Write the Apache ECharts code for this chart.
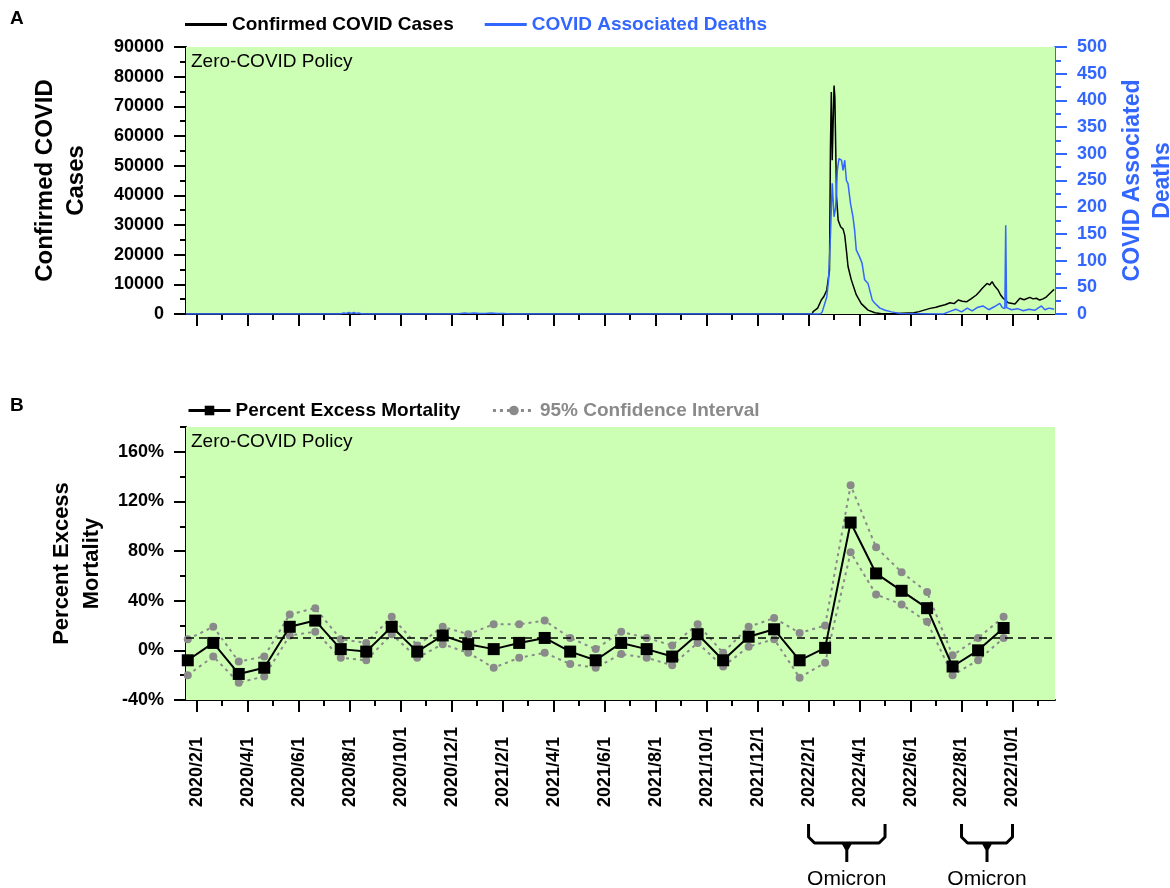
<!DOCTYPE html>
<html>
<head>
<meta charset="utf-8">
<title>Hong Kong COVID cases, deaths and excess mortality</title>
<script src="https://cdn.jsdelivr.net/npm/echarts@6/dist/echarts.min.js"></script>
<style>
  html, body { margin: 0; padding: 0; background: #fff; }
  #chart { width: 1170px; height: 888px; }
</style>
</head>
<body>
<div id="chart"></div>
<script>
// 每日确诊病例 [日期, 人数]
const casesDaily = [
  ['2020-01-19', 0], ['2022-02-05', 0], ['2022-02-06', 800], ['2022-02-11', 2000],
  ['2022-02-15', 4700], ['2022-02-18', 6000], ['2022-02-21', 8100], ['2022-02-24', 14800],
  ['2022-02-25', 55200], ['2022-02-26', 74800], ['2022-02-27', 51800], ['2022-03-01', 77000],
  ['2022-03-02', 73100], ['2022-03-04', 39500], ['2022-03-06', 31600], ['2022-03-09', 29400],
  ['2022-03-12', 28600], ['2022-03-14', 26500], ['2022-03-16', 21500], ['2022-03-18', 16000],
  ['2022-03-22', 11500], ['2022-03-28', 6500], ['2022-04-03', 3500], ['2022-04-11', 1300],
  ['2022-04-19', 400], ['2022-04-27', 100], ['2022-05-15', 200], ['2022-06-05', 450],
  ['2022-06-11', 800], ['2022-06-18', 1400], ['2022-06-24', 1900], ['2022-07-01', 2300],
  ['2022-07-06', 2700], ['2022-07-12', 3100], ['2022-07-18', 3800], ['2022-07-23', 3500],
  ['2022-07-28', 4700], ['2022-08-02', 4300], ['2022-08-07', 4100], ['2022-08-13', 5200],
  ['2022-08-19', 6400], ['2022-08-23', 7600], ['2022-08-26', 8600], ['2022-09-01', 10300],
  ['2022-09-04', 9800], ['2022-09-07', 10900], ['2022-09-10', 9400], ['2022-09-14', 8100],
  ['2022-09-17', 6400], ['2022-09-20', 5300], ['2022-09-26', 3800], ['2022-10-04', 3400],
  ['2022-10-10', 5300], ['2022-10-15', 4800], ['2022-10-22', 5600], ['2022-10-26', 5100],
  ['2022-10-30', 5300], ['2022-11-03', 4700], ['2022-11-07', 5100], ['2022-11-11', 5800],
  ['2022-11-17', 7500], ['2022-11-20', 8300]
]

// 每日死亡人数 [日期, 人数]
const deathsDaily = [
  ['2020-01-19', 0], ['2020-07-20', 0], ['2020-07-25', 2], ['2020-07-28', 1], ['2020-07-31', 3],
  ['2020-08-03', 1], ['2020-08-06', 3], ['2020-08-09', 1], ['2020-08-12', 2], ['2020-08-16', 0],
  ['2020-12-08', 0], ['2020-12-12', 1], ['2020-12-17', 2], ['2020-12-22', 1], ['2020-12-28', 2],
  ['2021-01-04', 1], ['2021-01-11', 1], ['2021-01-18', 2], ['2021-01-25', 1], ['2021-02-02', 1],
  ['2021-02-10', 0], ['2022-02-14', 0], ['2022-02-16', 4], ['2022-02-21', 32], ['2022-02-23', 64],
  ['2022-02-25', 145], ['2022-02-27', 245], ['2022-03-01', 182], ['2022-03-03', 200],
  ['2022-03-05', 269], ['2022-03-07', 291], ['2022-03-10', 288], ['2022-03-12', 269],
  ['2022-03-14', 288], ['2022-03-16', 250], ['2022-03-18', 244], ['2022-03-21', 207],
  ['2022-03-24', 182], ['2022-03-26', 157], ['2022-03-28', 120], ['2022-04-01', 107],
  ['2022-04-04', 95], ['2022-04-07', 64], ['2022-04-11', 57], ['2022-04-13', 60],
  ['2022-04-16', 26], ['2022-04-19', 20], ['2022-04-25', 11], ['2022-05-01', 7],
  ['2022-05-09', 4], ['2022-05-19', 1], ['2022-07-10', 0], ['2022-07-18', 5],
  ['2022-07-25', 9], ['2022-08-01', 4], ['2022-08-08', 11], ['2022-08-14', 6],
  ['2022-08-20', 12], ['2022-08-27', 15], ['2022-09-03', 8], ['2022-09-10', 14],
  ['2022-09-16', 20], ['2022-09-19', 12], ['2022-09-22', 10], ['2022-09-23', 166],
  ['2022-09-24', 12], ['2022-09-30', 8], ['2022-10-07', 10], ['2022-10-14', 6],
  ['2022-10-21', 9], ['2022-10-28', 7], ['2022-11-05', 15], ['2022-11-09', 8],
  ['2022-11-14', 11], ['2022-11-20', 9]
]

// 每月超额死亡率
const excessMonths = [
  '2020-01', '2020-02', '2020-03', '2020-04', '2020-05', '2020-06', '2020-07', '2020-08',
  '2020-09', '2020-10', '2020-11', '2020-12', '2021-01', '2021-02', '2021-03', '2021-04',
  '2021-05', '2021-06', '2021-07', '2021-08', '2021-09', '2021-10', '2021-11', '2021-12',
  '2022-01', '2022-02', '2022-03', '2022-04', '2022-05', '2022-06', '2022-07', '2022-08',
  '2022-09'
]
const excessPct = [
  -8, 6, -19, -14, 19, 24, 1, -1, 19, -1, 12, 5, 1, 6, 10, -1,
  -8, 6, 1, -5, 13, -8, 11, 17, -8, 2, 103, 62, 48, 34, -13, 0, 18
]
const ciUpper = [
  9, 19, -9, -5, 29, 34, 9, 6, 27, 4, 19, 13, 21, 21, 24, 10,
  1, 15, 10, 4, 21, -2, 19, 26, 14, 20, 133, 83, 63, 47, -4, 10, 27
]
const ciLower = [
  -20, -5, -26, -21, 12, 15, -6, -8, 13, -6, 5, -2, -14, -6, -2, -11,
  -14, -3, -6, -12, 6, -13, 3, 9, -22, -10, 79, 45, 37, 23, -20, -8, 10
]

// 横轴刻度标签
const xTickLabels = [
  '2020/2/1', '2020/4/1', '2020/6/1', '2020/8/1', '2020/10/1', '2020/12/1',
  '2021/2/1', '2021/4/1', '2021/6/1', '2021/8/1', '2021/10/1', '2021/12/1',
  '2022/2/1', '2022/4/1', '2022/6/1', '2022/8/1', '2022/10/1'
]
const pctTicks = [-40, 0, 40, 80, 120, 160]
const omicronSpans = [['2022-02-01', '2022-05-01'], ['2022-08-01', '2022-10-01']]
const axisStart = '2020-01-19'
const axisEnd = '2022-11-21'

const FONT = "'Liberation Sans', Arial, Helvetica, sans-serif"
const GREEN = '#ccffb4'
const BLUE = '#3366ff'
const GRAY = '#8a8a8a'

// 日期 -> 以月为单位的数值 (2020/1/1 = 0)
function toMonth(str) {
  let p = str.split(/[-\/]/).map(Number)
  let y = p[0], m = p[1], d = p[2] || 1
  let days = new Date(y, m, 0).getDate()
  return (y - 2020) * 12 + (m - 1) + (d - 1) / days
}

let xMin = toMonth(axisStart)
let xMax = toMonth(axisEnd)
let majorTicks = xTickLabels.map(toMonth)
let minorTicks = []
majorTicks.forEach(function(v) {
  if (v + 1 < xMax) minorTicks.push(v + 1)
})
// 每月数据点画在当月约21日的位置
const pointOffset = 0.65
let excessX = excessMonths.map(m => toMonth(m) + pointOffset)

function xAxisOf(gridIndex, ticks, len, showLine, labels) {
  return {
    type: 'value',
    gridIndex,
    position: 'bottom',
    min: xMin,
    max: xMax,
    axisLine: { show: showLine, onZero: false, lineStyle: { color: '#000', width: 2 } },
    axisTick: { show: true, customValues: ticks, length: len, lineStyle: { color: '#000', width: 2 } },
    axisLabel: labels ? {
      show: true,
      customValues: majorTicks,
      formatter: function(v) {
        let i = majorTicks.findIndex(t => Math.abs(t - v) < 1e-6)
        return i >= 0 ? xTickLabels[i] : ''
      },
      rotate: 90,
      align: 'left',
      verticalAlign: 'middle',
      margin: 107,
      color: '#000',
      fontSize: 18,
      fontWeight: 'bold',
      fontFamily: FONT
    } : { show: false },
    splitLine: { show: false }
  }
}

let chart = echarts.init(document.getElementById('chart'))

let labelStyle = {
  color: '#000', fontSize: 18, fontWeight: 'bold', fontFamily: FONT, margin: 22,
  formatter: v => String(v)
}

let option = {
  backgroundColor: '#fff',
  animation: false,
  textStyle: { fontFamily: FONT },
  grid: [
    { left: 186, top: 47, width: 869, height: 267, outerBoundsMode: 'none', containLabel: false },
    { left: 186, top: 427, width: 869, height: 273, outerBoundsMode: 'none', containLabel: false }
  ],
  legend: [
    {
      left: 180,
      top: 10,
      itemWidth: 42,
      itemHeight: 3,
      itemGap: 31,
      icon: 'rect',
      textStyle: { color: '#000', fontSize: 19, fontWeight: 'bold', fontFamily: FONT },
      data: [
        'Confirmed COVID Cases',
        { name: 'COVID Associated Deaths', textStyle: { color: BLUE } }
      ]
    },
    {
      left: 182,
      top: 396,
      itemWidth: 42,
      itemHeight: 12,
      itemGap: 31,
      lineStyle: { width: 3 },
      textStyle: { color: '#000', fontSize: 19, fontWeight: 'bold', fontFamily: FONT },
      data: [
        'Percent Excess Mortality',
        { name: '95% Confidence Interval', textStyle: { color: GRAY } }
      ]
    }
  ],
  xAxis: [
    xAxisOf(0, majorTicks, 12, true, false),
    xAxisOf(0, minorTicks, 6, false, false),
    xAxisOf(1, majorTicks, 12, true, true),
    xAxisOf(1, minorTicks, 6, false, false)
  ],
  yAxis: [
    {
      type: 'value',
      gridIndex: 0,
      position: 'left',
      min: 0,
      max: 90000,
      interval: 10000,
      axisLine: { show: true, onZero: false, lineStyle: { color: '#000', width: 2 } },
      axisTick: { show: true, length: 12, lineStyle: { color: '#000', width: 2 } },
      minorTick: { show: true, splitNumber: 2, length: 6, lineStyle: { color: '#000', width: 2 } },
      axisLabel: labelStyle,
      splitLine: { show: false },
      name: 'Confirmed COVID\nCases',
      nameLocation: 'middle',
      nameGap: 94,
      nameTextStyle: { color: '#000', fontSize: 24, fontWeight: 'bold', lineHeight: 31, fontFamily: FONT }
    },
    {
      type: 'value',
      gridIndex: 0,
      position: 'right',
      min: 0,
      max: 500,
      interval: 50,
      axisLine: { show: true, onZero: false, lineStyle: { color: BLUE, width: 2 } },
      axisTick: { show: true, length: 12, lineStyle: { color: BLUE, width: 2 } },
      minorTick: { show: true, splitNumber: 2, length: 6, lineStyle: { color: BLUE, width: 2 } },
      axisLabel: Object.assign({}, labelStyle, { color: BLUE }),
      splitLine: { show: false },
      name: 'COVID Associated\nDeaths',
      nameLocation: 'middle',
      nameGap: 57,
      nameTextStyle: { color: BLUE, fontSize: 23, fontWeight: 'bold', lineHeight: 30, fontFamily: FONT }
    },
    {
      type: 'value',
      gridIndex: 1,
      position: 'left',
      min: -40,
      max: 180,
      interval: 40,
      axisLine: { show: true, onZero: false, lineStyle: { color: '#000', width: 2 } },
      axisTick: { show: true, customValues: pctTicks, length: 12, lineStyle: { color: '#000', width: 2 } },
      axisLabel: Object.assign({}, labelStyle, { customValues: pctTicks, formatter: '{value}%' }),
      splitLine: { show: false },
      name: 'Percent Excess\nMortality',
      nameLocation: 'middle',
      nameGap: 78,
      nameTextStyle: { color: '#000', fontSize: 22, fontWeight: 'bold', lineHeight: 30, fontFamily: FONT }
    },
    {
      // 小刻度
      type: 'value',
      gridIndex: 1,
      position: 'left',
      min: -40,
      max: 180,
      axisLine: { show: false, onZero: false },
      axisTick: { show: true, customValues: pctTicks.map(v => v + 20), length: 6, lineStyle: { color: '#000', width: 2 } },
      axisLabel: { show: false },
      splitLine: { show: false }
    }
  ],
  series: [
    {
      name: 'Confirmed COVID Cases',
      type: 'line',
      xAxisIndex: 0,
      yAxisIndex: 0,
      symbol: 'none',
      color: '#000',
      lineStyle: { color: '#000', width: 1.5 },
      data: casesDaily.map(d => [toMonth(d[0]), d[1]]),
      markArea: {
        silent: true,
        itemStyle: { color: GREEN, opacity: 1 },
        label: { show: true, position: 'insideTopLeft', distance: 5, color: '#000', fontSize: 19, fontFamily: FONT },
        data: [[{ name: 'Zero-COVID Policy', coord: [xMin, 0] }, { coord: [xMax, 90000] }]]
      }
    },
    {
      name: 'COVID Associated Deaths',
      type: 'line',
      xAxisIndex: 0,
      yAxisIndex: 1,
      symbol: 'none',
      color: BLUE,
      lineStyle: { color: BLUE, width: 1.5 },
      data: deathsDaily.map(d => [toMonth(d[0]), d[1]])
    },
    {
      name: '95% Confidence Interval',
      type: 'line',
      xAxisIndex: 2,
      yAxisIndex: 2,
      symbol: 'circle',
      symbolSize: 8,
      color: GRAY,
      lineStyle: { color: GRAY, width: 2, type: [3, 4] },
      data: excessX.map((x, i) => [x, ciUpper[i]]),
      markArea: {
        silent: true,
        itemStyle: { color: GREEN, opacity: 1 },
        label: { show: true, position: 'insideTopLeft', distance: 5, color: '#000', fontSize: 19, fontFamily: FONT },
        data: [[{ name: 'Zero-COVID Policy', coord: [xMin, -40] }, { coord: [xMax, 180] }]]
      },
      markLine: {
        silent: true,
        symbol: 'none',
        label: { show: false },
        lineStyle: { color: '#000', width: 1.5, type: [8, 5] },
        data: [{ yAxis: 10 }]
      }
    },
    {
      name: '95% Confidence Interval',
      type: 'line',
      xAxisIndex: 2,
      yAxisIndex: 2,
      symbol: 'circle',
      symbolSize: 8,
      color: GRAY,
      lineStyle: { color: GRAY, width: 2, type: [3, 4] },
      data: excessX.map((x, i) => [x, ciLower[i]])
    },
    {
      name: 'Percent Excess Mortality',
      type: 'line',
      xAxisIndex: 2,
      yAxisIndex: 2,
      z: 4,
      symbol: 'rect',
      symbolSize: 12,
      color: '#000',
      lineStyle: { color: '#000', width: 2 },
      data: excessX.map((x, i) => [x, excessPct[i]])
    }
  ]
}

chart.setOption(option)

// 面板标签和 Omicron 括号
let graphics = [
  { type: 'text', left: 10, top: 9, style: { text: 'A', fontSize: 19, fontWeight: 'bold', fill: '#000', fontFamily: FONT } },
  { type: 'text', left: 10, top: 396, style: { text: 'B', fontSize: 19, fontWeight: 'bold', fill: '#000', fontFamily: FONT } }
]
omicronSpans.forEach(function(span) {
  let x1 = chart.convertToPixel({ xAxisIndex: 2 }, toMonth(span[0]))
  let x2 = chart.convertToPixel({ xAxisIndex: 2 }, toMonth(span[1]))
  let xc = (x1 + x2) / 2
  graphics.push({
    type: 'polyline',
    shape: { points: [[x1, 824], [x1, 837], [x1 + 6, 843], [x2 - 6, 843], [x2, 837], [x2, 824]] },
    style: { stroke: '#000', lineWidth: 3, fill: null, lineJoin: 'round' }
  })
  graphics.push({
    type: 'polygon',
    shape: { points: [[xc - 6, 842], [xc + 6, 842], [xc + 1.5, 850], [xc + 1.5, 862], [xc - 1.5, 862], [xc - 1.5, 850]] },
    style: { fill: '#000' }
  })
  graphics.push({
    type: 'text',
    x: xc,
    y: 879,
    style: { text: 'Omicron', align: 'center', verticalAlign: 'middle', fontSize: 21, fill: '#000', fontFamily: FONT }
  })
})
chart.setOption({ graphic: graphics })
</script>
</body>
</html>
